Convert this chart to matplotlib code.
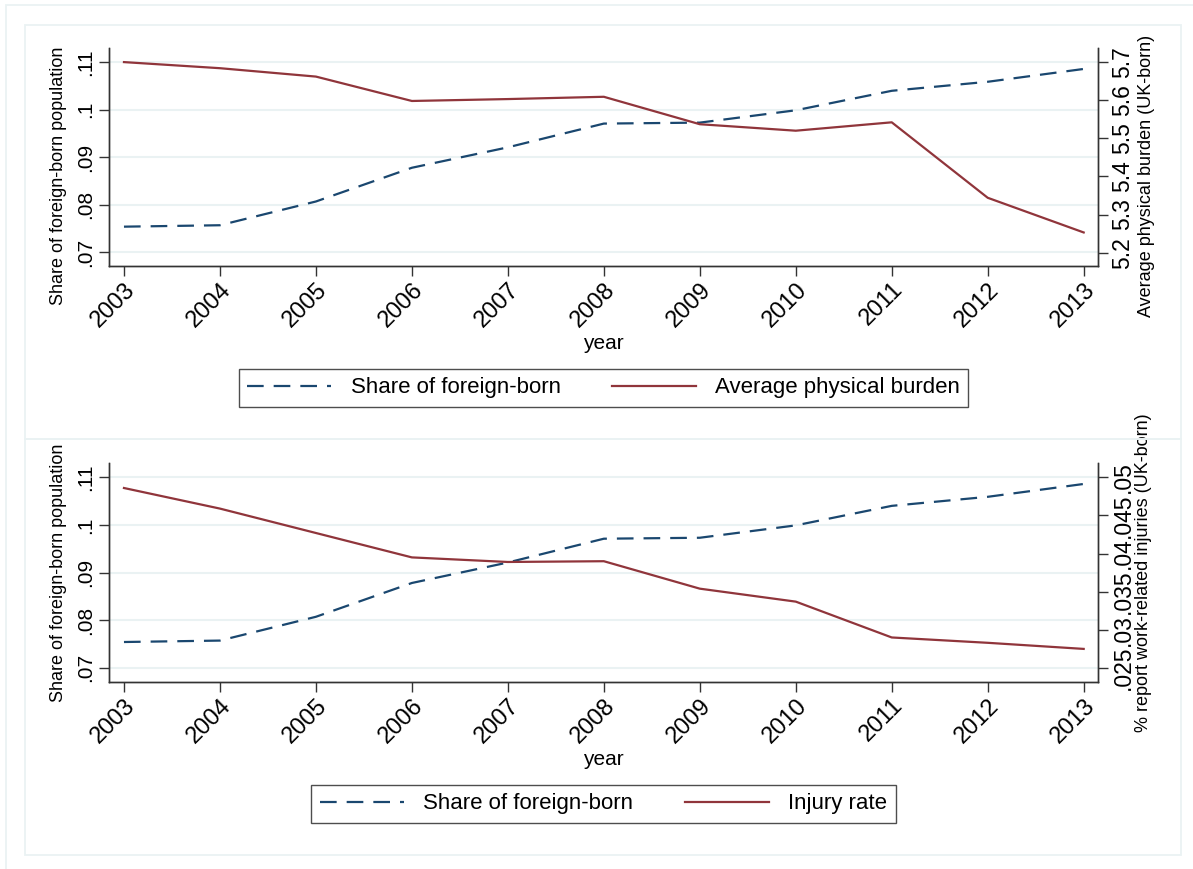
import matplotlib
matplotlib.use("Agg")
import matplotlib.pyplot as plt
from matplotlib.patches import Rectangle

plt.rcParams['font.family'] = ['Liberation Sans', 'DejaVu Sans']

years = [2003, 2004, 2005, 2006, 2007, 2008, 2009, 2010, 2011, 2012, 2013]
share_foreign = [0.0754, 0.0757, 0.0807, 0.0878, 0.0921, 0.0971, 0.0973, 0.0999, 0.1040, 0.1059, 0.1086]
physical_burden = [5.700, 5.684, 5.662, 5.598, 5.603, 5.609, 5.537, 5.520, 5.542, 5.344, 5.253]
injury_rate = [0.0486, 0.0459, 0.0427, 0.0395, 0.0389, 0.0390, 0.0354, 0.0337, 0.0290, 0.0283, 0.0275]

left_ticks = [0.07, 0.08, 0.09, 0.10, 0.11]
left_ticklabels = ['.07', '.08', '.09', '.1', '.11']
burden_ticks = [5.2, 5.3, 5.4, 5.5, 5.6, 5.7]
burden_ticklabels = ['5.2', '5.3', '5.4', '5.5', '5.6', '5.7']
injury_ticks = [0.025, 0.03, 0.035, 0.04, 0.045, 0.05]
injury_ticklabels = ['.025', '.03', '.035', '.04', '.045', '.05']

BLUE = '#1a476f'
RED = '#90353b'
GRID = '#eaf2f3'
W, H = 1193, 869

fig = plt.figure(figsize=(W / 100, H / 100), dpi=100)
fig.patch.set_facecolor('white')

def px_rect(x0, y0, x1, y1):
    return Rectangle((x0 / W, 1 - y1 / H), (x1 - x0) / W, (y1 - y0) / H,
                     transform=fig.transFigure, fill=False,
                     edgecolor=GRID, linewidth=1.3, zorder=0)

fig.patches.append(px_rect(6, 5, 1200, 880))
fig.patches.append(px_rect(25, 25, 1180.5, 439))
fig.patches.append(px_rect(25, 439, 1180.5, 855))

def make_panel(top_px, bottom_px, right_vals, right_ticks, right_ticklabels,
               right_lim, left_lim, right_label, red_label, legend_center_y,
               label_y, left_label_x, right_label_x):
    ax = fig.add_axes([109 / W, 1 - bottom_px / H, 988.7 / W, (bottom_px - top_px) / H])
    ax.set_facecolor('white')
    ax2 = ax.twinx()

    l1, = ax.plot(years, share_foreign, color=BLUE, lw=1.6, dashes=(7.5, 4.5), zorder=3)
    l2, = ax2.plot(years, right_vals, color=RED, lw=1.6, zorder=3)

    ax.set_xlim(2002.844, 2013.146)
    ax.set_ylim(*left_lim)
    ax2.set_ylim(*right_lim)
    ax.set_yticks(left_ticks)
    ax.set_yticklabels(left_ticklabels, rotation=90, va='center', fontsize=15)
    ax2.set_yticks(right_ticks)
    ax2.set_yticklabels(right_ticklabels, rotation=90, va='center', fontsize=16.5)
    ax.set_xticks(years)
    ax.set_xticklabels([str(y) for y in years], rotation=45, ha='right',
                       rotation_mode='anchor', fontsize=17)
    for a in (ax, ax2):
        a.tick_params(axis='both', length=7, width=1, color='#333333', pad=3)
        a.spines['top'].set_visible(False)
        for s in ('left', 'right', 'bottom'):
            a.spines[s].set_color('#333333')
            a.spines[s].set_linewidth(1)
    ax.tick_params(axis='x', pad=2)
    ax.yaxis.grid(True, color=GRID, lw=1.5, zorder=0)
    ax.set_axisbelow(True)

    ax.set_ylabel('Share of foreign-born population', fontsize=13)
    ax.yaxis.set_label_coords(left_label_x, label_y)
    ax2.set_ylabel(right_label, fontsize=13, rotation=90)
    ax2.yaxis.set_label_coords(right_label_x, label_y)
    ax.set_xlabel('year', fontsize=15, labelpad=2)

    fig.legend([l1, l2], ['Share of foreign-born', red_label],
               loc='center', bbox_to_anchor=(603.5 / W, 1 - legend_center_y / H),
               ncol=2, fontsize=16, frameon=True, fancybox=False,
               edgecolor='#222222', handlelength=3.8, handletextpad=0.86,
               columnspacing=2.3, borderpad=0.38)
    return ax, ax2

make_panel(48, 266, physical_burden, burden_ticks, burden_ticklabels,
           (5.165, 5.737), (0.06712, 0.11301),
           'Average physical burden (UK-born)', 'Average physical burden', 388,
           0.413, -0.0425, 1.0408)
make_panel(463.3, 682, injury_rate, injury_ticks, injury_ticklabels,
           (0.02316, 0.05184), (0.0670, 0.11294),
           '% report work-related injuries (UK-born)', 'Injury rate', 804,
           0.5, -0.0425, 1.0377)

fig.savefig('out.png', dpi=100, facecolor='white')
